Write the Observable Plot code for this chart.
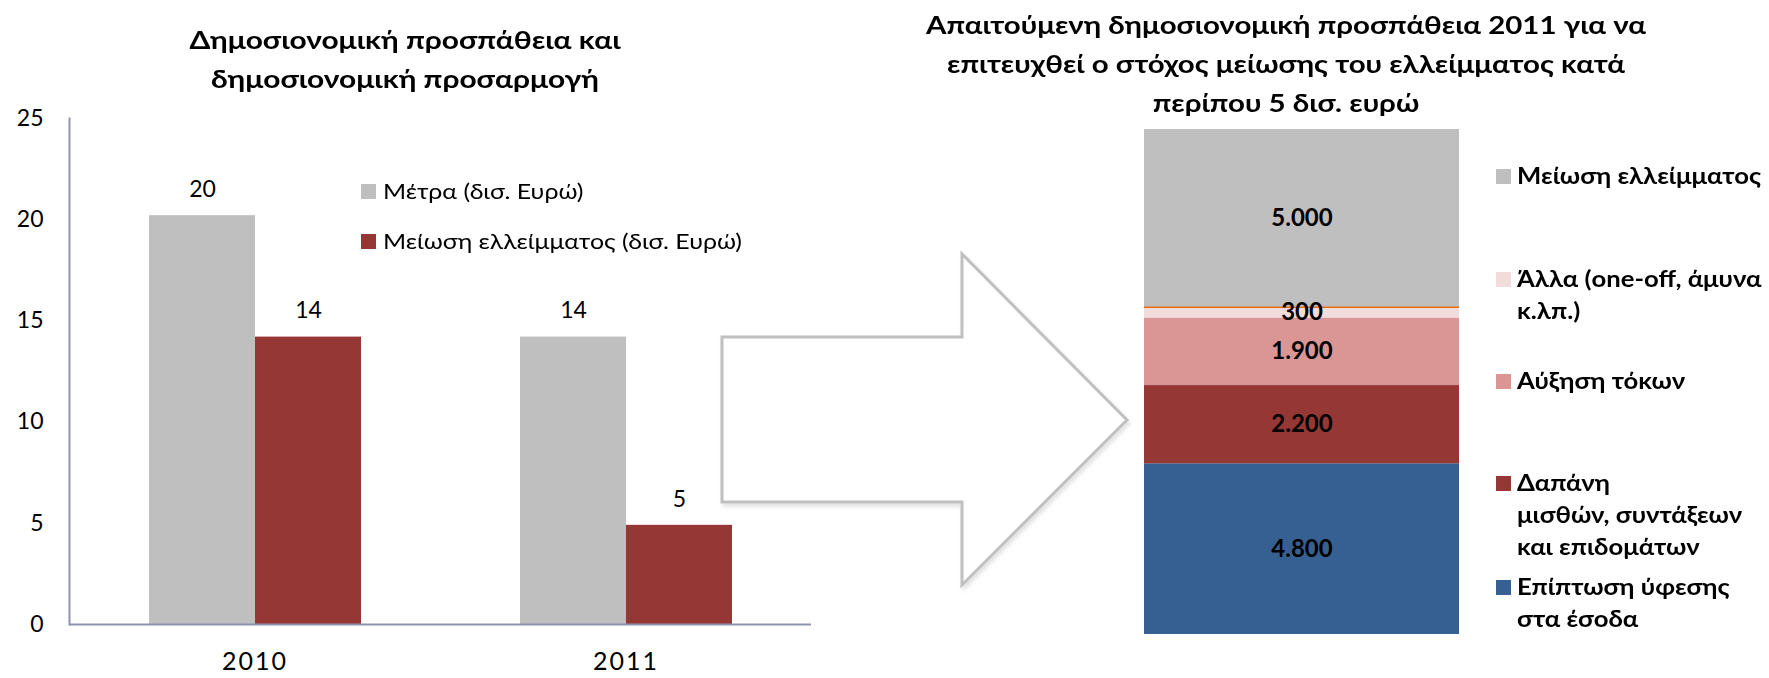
<!DOCTYPE html>
<html>
<head>
<meta charset="utf-8">
<script src="https://cdn.jsdelivr.net/npm/d3@7"></script>
<script src="https://cdn.jsdelivr.net/npm/@observablehq/plot@0.6"></script>
<style>
  body { margin: 0; background: #fff; }
  #root { position: relative; width: 1769px; height: 678px; overflow: hidden; background: #fff;
          font-family: Lato, "Open Sans", "Noto Sans", sans-serif; color: #000; }
  .leg { position: absolute; display: flex; align-items: flex-start; }
  .sw { flex: none; }
  .lt { transform-origin: 0 50%; white-space: pre; }
</style>
</head>
<body>
<div id="root"></div>
<script>
// ---------- data ----------
const leftTitle = "Δημοσιονομική προσπάθεια και\nδημοσιονομική προσαρμογή";
const years = ["2010", "2011"];
const leftSeries = ["Μέτρα (δισ. Ευρώ)", "Μείωση ελλείμματος (δισ. Ευρώ)"];
const metra = [20.2, 14.2];
const meiosi = [14.2, 4.9];
const yTicks = [0, 5, 10, 15, 20, 25];
const leftColors = ["#BFBFBF", "#953735"];

const rightTitle = "Απαιτούμενη δημοσιονομική προσπάθεια 2011 για να\nεπιτευχθεί ο στόχος μείωσης του ελλείμματος κατά\nπερίπου 5 δισ. ευρώ";
const rightCategories = [
  "Επίπτωση ύφεσης στα έσοδα",
  "Δαπάνη μισθών, συντάξεων και επιδομάτων",
  "Αύξηση τόκων",
  "Άλλα (one-off, άμυνα κ.λπ.)",
  "Μείωση ελλείμματος"
];
const rightLegendLabels = [
  "Επίπτωση ύφεσης\nστα έσοδα",
  "Δαπάνη\nμισθών, συντάξεων\nκαι επιδομάτων",
  "Αύξηση τόκων",
  "Άλλα (one-off, άμυνα\nκ.λπ.)",
  "Μείωση ελλείμματος"
];
const rightValues = [4800, 2200, 1900, 300, 5000];
const rightColors = ["#376092", "#953735", "#D99694", "#F2DCDB", "#BFBFBF"];

// ---------- helpers ----------
const root = document.getElementById("root");
const FONT = "Lato, 'Open Sans', 'Noto Sans', sans-serif";
const grLocale = d3.formatLocale({decimal: ",", thousands: ".", grouping: [3], currency: ["", " €"]});
const fmtThousands = grLocale.format(",.0f");
const fmtInt = d3.format(".0f");
const ctx = document.createElement("canvas").getContext("2d");
function measure(text, font) { ctx.font = font; return ctx.measureText(text).width; }

function place(el, left, top) {
  el.style.position = "absolute";
  el.style.left = left + "px";
  el.style.top = top + "px";
  root.appendChild(el);
  return el;
}
function dropWarnings(svg) {
  svg.querySelectorAll("text").forEach(t => { if (t.textContent.includes("\u26a0")) t.remove(); });
  return svg;
}
function addTitle(text, cx, top, size, lineH, targetW) {
  const lines = text.split("\n");
  const font = `bold ${size}px ${FONT}`;
  const k = targetW / measure(lines[0], font);
  const d = document.createElement("div");
  d.style.cssText = `position:absolute;left:${cx - 700}px;top:${top}px;width:1400px;text-align:center;white-space:pre;` +
    `font-weight:bold;font-size:${size}px;line-height:${lineH}px;transform:scaleX(${k});transform-origin:50% 0;`;
  d.textContent = text;
  root.appendChild(d);
}

// ---------- left chart ----------
const leftData = years.flatMap((y, i) => [
  {year: y, series: leftSeries[0], value: metra[i]},
  {year: y, series: leftSeries[1], value: meiosi[i]}
]);

const axisColor = "#8E94AD";
const leftPlot = Plot.plot({
  width: 900, height: 678,
  marginLeft: 68, marginRight: 89, marginTop: 118, marginBottom: 54,
  style: {fontFamily: FONT, fontSize: "23px", color: "#000", background: "transparent", overflow: "visible"},
  fx: {type: "band", domain: years, paddingInner: 0, paddingOuter: 0, axis: "bottom", tickSize: 0, tickPadding: 28, label: null},
  x: {type: "band", domain: leftSeries, paddingInner: 0, paddingOuter: 0.75, axis: null},
  y: {domain: [0, 25], ticks: yTicks, tickSize: 0, tickPadding: 26, label: null},
  color: {domain: leftSeries, range: leftColors},
  marks: [
    Plot.barY(leftData, {fx: "year", x: "series", y: "value", fill: "series"}),
    Plot.text(leftData, {fx: "year", x: "series", y: "value", text: d => fmtInt(d.value), dy: -26, fontSize: 23, fill: "#000"}),
    Plot.ruleY([0], {stroke: axisColor, strokeWidth: 2}),
    Plot.frame({anchor: "left", facetAnchor: "left", stroke: axisColor, strokeWidth: 2})
  ]
});
place(dropWarnings(leftPlot), 0, 0);
// widen the year labels a little, like the reference
leftPlot.querySelectorAll("g[aria-label='fx-axis tick label'] text").forEach(t => { t.setAttribute("font-size", "25"); t.setAttribute("letter-spacing", "2"); });

addTitle(leftTitle, 405, 20, 25.5, 39, 431);

// left legend
const leftLegendY = [191, 241];
const kLeftLeg = 359 / measure(leftSeries[1], `22px ${FONT}`);
leftSeries.forEach((s, i) => {
  const row = document.createElement("div");
  row.className = "leg";
  row.style.fontSize = "22px";
  row.style.lineHeight = "30px";
  const sw = document.createElement("div");
  sw.className = "sw";
  sw.style.cssText = `width:15px;height:15px;background:${leftColors[i]};margin-top:8px;margin-right:7px;`;
  const tx = document.createElement("div");
  tx.className = "lt";
  tx.style.transform = `scaleX(${kLeftLeg})`;
  tx.textContent = s;
  row.appendChild(sw); row.appendChild(tx);
  place(row, 361, leftLegendY[i] - 15);
});

// ---------- arrow (decoration) ----------
const arrowSvg = d3.create("svg").attr("width", 1769).attr("height", 678)
  .style("position", "absolute").style("left", "0px").style("top", "0px").style("pointer-events", "none");
const defs = arrowSvg.append("defs");
const f = defs.append("filter").attr("id", "sh").attr("x", "-10%").attr("y", "-10%").attr("width", "130%").attr("height", "130%");
f.append("feDropShadow").attr("dx", 2).attr("dy", 3).attr("stdDeviation", 2).attr("flood-color", "#000").attr("flood-opacity", 0.12);
arrowSvg.append("path")
  .attr("d", "M722,337 L962,337 L962,254 L1127,420 L962,585 L962,502 L722,502 Z")
  .attr("fill", "#fff").attr("stroke", "#C0C0C0").attr("stroke-width", 3).attr("filter", "url(#sh)");
root.appendChild(arrowSvg.node());

// ---------- right chart ----------
const rightData = rightCategories.map((c, i) => ({category: c, value: rightValues[i], bar: "Σύνολο"}));
const total = d3.sum(rightValues);
const othersTop = d3.sum(rightValues.slice(0, 4));
const rightPlot = Plot.plot({
  width: 400, height: 678,
  marginLeft: 44, marginRight: 41, marginTop: 129, marginBottom: 44,
  style: {fontFamily: FONT, fontSize: "24px", color: "#000", background: "transparent", overflow: "visible"},
  x: {type: "band", axis: null, padding: 0},
  y: {axis: null, domain: [0, total]},
  color: {domain: rightCategories, range: rightColors},
  marks: [
    Plot.barY(rightData, {x: "bar", y: "value", fill: "category", order: null}),
    Plot.ruleY([othersTop], {stroke: "#E46C0A", strokeWidth: 1.5}),
    Plot.text(rightData, Plot.stackY({x: "bar", y: "value", order: null, text: d => fmtThousands(d.value), fontWeight: "bold", fontSize: 24, fill: "#000"}))
  ]
});
place(dropWarnings(rightPlot), 1100, 0);

addTitle(rightTitle, 1286, 5, 25.5, 39, 720);

// right legend (top to bottom)
const rightLegendY = [176, 279, 381, 483, 587];
const legendOrder = [4, 3, 2, 1, 0];
const kRightLeg = 244 / measure("Μείωση ελλείμματος", `bold 22px ${FONT}`);
legendOrder.forEach((k, j) => {
  const row = document.createElement("div");
  row.className = "leg";
  row.style.fontSize = "22px";
  row.style.fontWeight = "bold";
  row.style.lineHeight = "32px";
  const sw = document.createElement("div");
  sw.className = "sw";
  sw.style.cssText = `width:15px;height:15px;background:${rightColors[k]};margin-top:9px;margin-right:6px;`;
  const tx = document.createElement("div");
  tx.className = "lt";
  tx.style.transform = `scaleX(${kRightLeg})`;
  tx.textContent = rightLegendLabels[k];
  row.appendChild(sw); row.appendChild(tx);
  place(row, 1496, rightLegendY[j] - 16);
});
</script>
</body>
</html>
